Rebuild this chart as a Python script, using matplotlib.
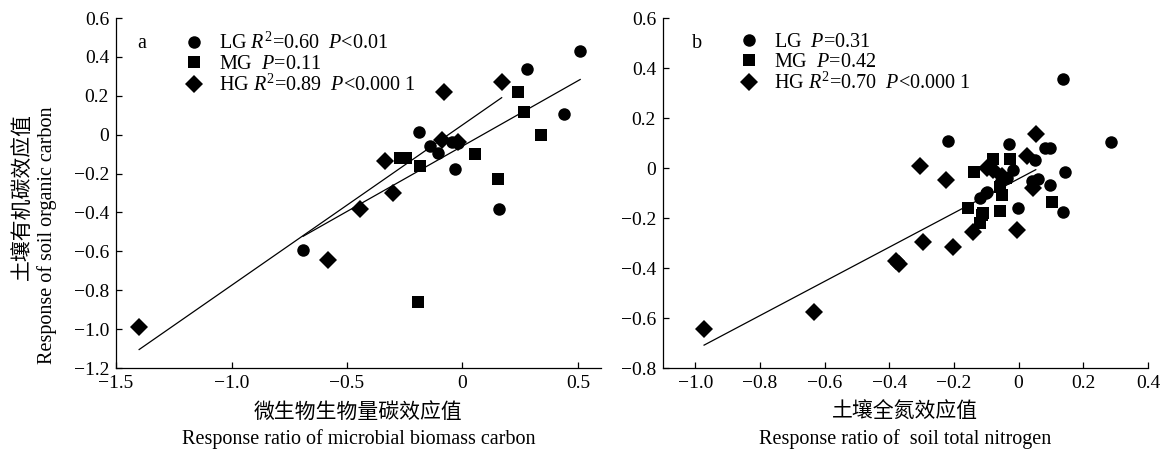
import matplotlib
matplotlib.use('Agg')
import matplotlib.pyplot as plt
import numpy as np

plt.rcParams['font.family'] = ['Liberation Serif', 'Noto Sans CJK SC']
plt.rcParams['mathtext.fontset'] = 'custom'
plt.rcParams['mathtext.rm'] = 'Liberation Serif'
plt.rcParams['mathtext.it'] = 'Liberation Serif:italic'
plt.rcParams['axes.unicode_minus'] = True

# 图 a : 微生物生物量碳 vs 土壤有机碳
a_lg_x = [0.51, 0.28, 0.44, -0.19, -0.14, -0.105, -0.047, -0.018, -0.03, 0.16, -0.69]
a_lg_y = [0.43, 0.34, 0.105, 0.012, -0.057, -0.094, -0.036, -0.044, -0.177, -0.384, -0.593]
a_mg_x = [-0.27, -0.245, -0.185, 0.054, 0.155, 0.242, 0.268, 0.34, -0.194]
a_mg_y = [-0.12, -0.12, -0.161, -0.101, -0.23, 0.218, 0.115, -0.002, -0.862]
a_hg_x = [-0.08, 0.17, -0.336, -0.09, -0.02, -0.30, -0.444, -0.584, -1.399]
a_hg_y = [0.221, 0.272, -0.137, -0.028, -0.04, -0.298, -0.384, -0.645, -0.988]
a_fits = {'LG': (0.672, -0.059, -0.69, 0.51), 'HG': (0.825, 0.05, -1.40, 0.17)}
a_legend = [r'LG $R^2$=0.60  $P$<0.01', r'MG  $P$=0.11', r'HG $R^2$=0.89  $P$<0.000 1']

# 图 b : 土壤全氮 vs 土壤有机碳
b_lg_x = [0.138, 0.285, -0.219, -0.031, 0.083, 0.097, 0.143, 0.051, 0.097, 0.138,
          -0.003, -0.10, -0.017, -0.036, -0.057, -0.098, -0.119, 0.04, 0.06]
b_lg_y = [0.355, 0.103, 0.109, 0.096, 0.079, 0.079, -0.015, 0.032, -0.066, -0.175,
          -0.159, -0.099, -0.008, -0.041, -0.061, -0.095, -0.121, -0.05, -0.045]
b_mg_x = [-0.137, -0.078, -0.026, -0.158, -0.059, 0.102, -0.113, -0.119, -0.11, -0.052, -0.057, -0.04]
b_mg_y = [-0.015, 0.035, 0.035, -0.161, -0.171, -0.135, -0.188, -0.221, -0.18, -0.108, -0.075, -0.04]
b_hg_x = [0.053, -0.306, -0.226, 0.025, -0.098, 0.046, -0.006, -0.14, -0.295, -0.203,
          -0.38, -0.37, -0.632, -0.973, -0.08, -0.05]
b_hg_y = [0.136, 0.008, -0.048, 0.048, -0.001, -0.081, -0.248, -0.257, -0.297, -0.315,
          -0.37, -0.385, -0.575, -0.644, -0.008, -0.03]
b_fits = {'HG': (0.684, -0.043, -0.973, 0.053)}
b_legend = [r'LG  $P$=0.31', r'MG  $P$=0.42', r'HG $R^2$=0.70  $P$<0.000 1']


def fmt(v, pos=None):
    if abs(v) < 1e-9:
        return '0'
    return ('%.1f' % v).replace('-', '\u2212')


fig = plt.figure(figsize=(11.71, 4.49), dpi=100)
ax1 = fig.add_axes([0.0991, 0.1804, 0.4141, 0.7795])
ax2 = fig.add_axes([0.5662, 0.1804, 0.4141, 0.7795])


def draw(ax, lg, mg, hg, fits, labels, tag, legx, tagx):
    h1, = ax.plot(lg[0], lg[1], 'o', color='black', ms=9, mew=0, ls='none')
    h2, = ax.plot(mg[0], mg[1], 's', color='black', ms=8.2, mew=0, ls='none')
    h3, = ax.plot(hg[0], hg[1], 'D', color='black', ms=8.8, mew=0, ls='none')
    for k, (k1, b0, x0, x1) in fits.items():
        xs = np.array([x0, x1])
        ax.plot(xs, k1 * xs + b0, color='black', lw=0.9)
    ax.legend([h1, h2, h3], labels, loc='upper left', bbox_to_anchor=(legx, 0.958),
              frameon=False, fontsize=14.5, handlelength=1.0, handletextpad=0.72,
              labelspacing=0.05, borderpad=0, borderaxespad=0)
    ax.text(tagx, 0.926, tag, transform=ax.transAxes, fontsize=14.5, va='center')
    for s in ['top', 'right']:
        ax.spines[s].set_visible(False)
    for s in ['left', 'bottom']:
        ax.spines[s].set_linewidth(0.9)
    ax.tick_params(direction='in', length=4, width=0.9, labelsize=14, pad=5)
    ax.yaxis.set_major_formatter(plt.FuncFormatter(fmt))
    ax.xaxis.set_major_formatter(plt.FuncFormatter(fmt))


draw(ax1, (a_lg_x, a_lg_y), (a_mg_x, a_mg_y), (a_hg_x, a_hg_y), a_fits, a_legend, 'a', 0.14, 0.043)
ax1.set_xlim(-1.5, 0.6)
ax1.set_ylim(-1.2, 0.6)
ax1.set_xticks([-1.5, -1.0, -0.5, 0, 0.5])
ax1.set_yticks(np.round(np.arange(-1.2, 0.61, 0.2), 1))

draw(ax2, (b_lg_x, b_lg_y), (b_mg_x, b_mg_y), (b_hg_x, b_hg_y), b_fits, b_legend, 'b', 0.157, 0.06)
ax2.set_xlim(-1.1, 0.4)
ax2.set_ylim(-0.8, 0.6)
ax2.set_xticks(np.round(np.arange(-1.0, 0.41, 0.2), 1))
ax2.set_yticks(np.round(np.arange(-0.8, 0.61, 0.2), 1))

# 坐标轴标题
ax1.text(0.5, -0.126, '微生物生物量碳效应值', transform=ax1.transAxes, ha='center', va='center',
         fontsize=15, family='Noto Sans CJK SC')
ax1.text(0.5, -0.203, 'Response ratio of microbial biomass carbon', transform=ax1.transAxes,
         ha='center', va='center', fontsize=14.5)
ax1.text(-0.194, 0.491, '土壤有机碳效应值', transform=ax1.transAxes, ha='center', va='center',
         rotation=90, fontsize=15, family='Noto Sans CJK SC')
ax1.text(-0.142, 0.38, 'Response of soil organic carbon', transform=ax1.transAxes,
         ha='center', va='center', rotation=90, fontsize=14.5)
ax2.text(0.5, -0.126, '土壤全氮效应值', transform=ax2.transAxes, ha='center', va='center',
         fontsize=15, family='Noto Sans CJK SC')
ax2.text(0.5, -0.203, 'Response ratio of  soil total nitrogen', transform=ax2.transAxes,
         ha='center', va='center', fontsize=14.5)

fig.savefig('out.png', dpi=100)
